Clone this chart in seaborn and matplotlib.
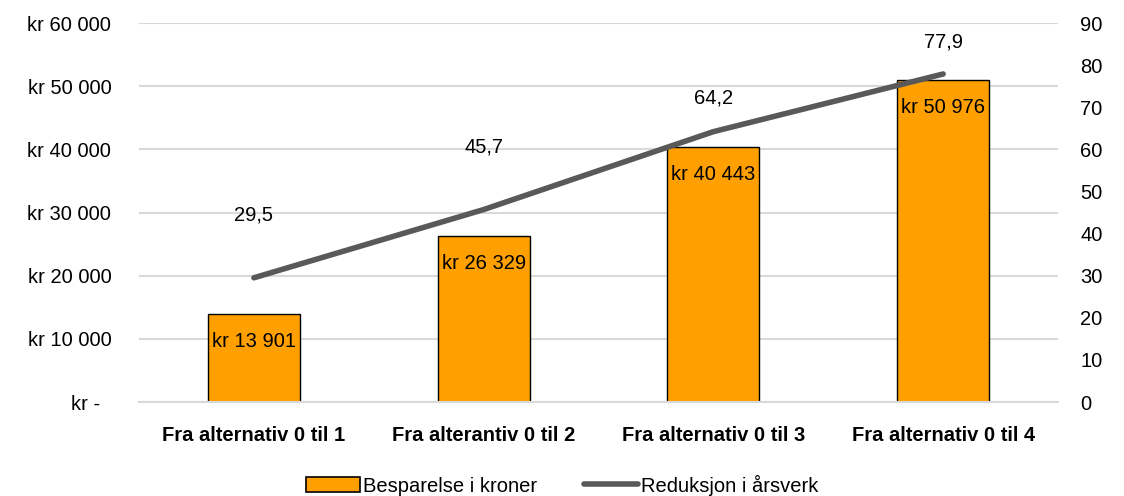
import matplotlib
matplotlib.use("Agg")
import matplotlib.pyplot as plt
import seaborn as sns
import pandas as pd
from matplotlib.lines import Line2D
from matplotlib.patches import Patch

categories = ["Fra alternativ 0 til 1", "Fra alterantiv 0 til 2",
              "Fra alternativ 0 til 3", "Fra alternativ 0 til 4"]
savings = [13901, 26329, 40443, 50976]
fte_reduction = [29.5, 45.7, 64.2, 77.9]
left_ticks = [0, 10000, 20000, 30000, 40000, 50000, 60000]
left_tick_labels = ["kr -  ", "kr 10 000", "kr 20 000", "kr 30 000",
                    "kr 40 000", "kr 50 000", "kr 60 000"]
right_ticks = list(range(0, 91, 10))
bar_series = "Besparelse i kroner"
line_series = "Reduksjon i årsverk"

sns.set_theme(style="white")
plt.rcParams["font.family"] = ["Liberation Sans", "DejaVu Sans"]
plt.rcParams["text.color"] = "black"

df = pd.DataFrame({"kategori": categories, "kr": savings, "aarsverk": fte_reduction})

fig = plt.figure(figsize=(11.24, 4.96), dpi=100)
ax = fig.add_axes([0.1237, 0.1895, 0.8176, 0.7641])

sns.barplot(data=df, x="kategori", y="kr", ax=ax, color="#FFA000",
            edgecolor="black", linewidth=1.0, width=0.4, saturation=1, zorder=2)
ax.set_ylim(0, 60000)
ax.set_yticks(left_ticks)
ax.set_yticklabels(left_tick_labels, fontsize=14.5, color="#000000")
ax.yaxis.grid(True, color="#d9d9d9", linewidth=1.5, zorder=0)
ax.set_axisbelow(True)
ax.tick_params(axis="y", length=0, pad=20)
ax.tick_params(axis="x", length=0, pad=17)
ax.set_xticks(range(len(categories)))
ax.set_xticklabels(categories, fontsize=14.5, fontweight="bold",
                   fontfamily="Liberation Sans", color="#000000")
ax.set_xlabel("")
ax.set_ylabel("")
for s in ["top", "left", "right"]:
    ax.spines[s].set_visible(False)
ax.spines["bottom"].set_color("#d9d9d9")
ax.spines["bottom"].set_linewidth(1.5)
ax.set_xlim(-0.5, 3.5)

for i, v in enumerate(savings):
    txt = "kr " + f"{v:,}".replace(",", " ")
    ax.annotate(txt, (i, v), xytext=(0, -20), textcoords="offset points",
                ha="center", va="center", fontsize=14.5, color="#000000")

ax2 = ax.twinx()
sns.lineplot(x=list(range(len(categories))), y=fte_reduction, ax=ax2,
             color="#595959", linewidth=4, zorder=3)
ax2.set_ylim(0, 90)
ax2.set_yticks(right_ticks)
ax2.set_yticklabels([str(t) for t in right_ticks], fontsize=14.5, color="#000000")
ax2.tick_params(axis="y", length=0, pad=16)
ax2.set_ylabel("")
ax2.grid(False)
for s in ax2.spines.values():
    s.set_visible(False)
ax2.set_xlim(-0.5, 3.5)

label_offsets = [45, 45, 24, 23]
for i, v in enumerate(fte_reduction):
    ax2.annotate(f"{v:.1f}".replace(".", ","), (i, v), xytext=(0, label_offsets[i]),
                 textcoords="offset points", ha="center", va="center",
                 fontsize=14.5, color="#000000")

handles = [Patch(facecolor="#FFA000", edgecolor="black", linewidth=1.2),
           Line2D([0], [0], color="#595959", linewidth=4)]
fig.legend(handles, [bar_series, line_series], loc="center", bbox_to_anchor=(0.5, 0.022),
           ncol=2, frameon=False, handlelength=2.7, handleheight=0.8,
           handletextpad=0.15, columnspacing=2.3, labelcolor="black",
           prop={"family": "Liberation Sans", "size": 14.5})

fig.savefig("out.png", dpi=100)
